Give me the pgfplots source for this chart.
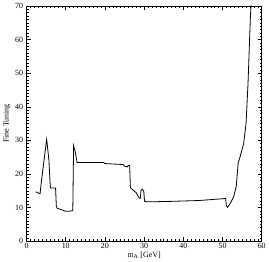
\documentclass[border=0pt]{standalone}
\usepackage{fontspec}
\setmainfont{Liberation Serif}
\usepackage{pgfplots}
\pgfplotsset{compat=1.18}
\begin{document}
\begin{tikzpicture}[x=1pt,y=1pt]
\begin{axis}[
  width=237pt, height=237pt, scale only axis,
  xmin=0, xmax=60, ymin=0, ymax=70,
  xtick={0,10,...,60}, ytick={0,10,...,70},
  minor tick num=9,
  tick align=inside,
  major tick length=4pt, minor tick length=2pt,
  tick style={black, line width=0.5pt},
  axis line style={line width=0.8pt},
  ticklabel style={font=\fontsize{8}{9}\selectfont},
  /pgf/number format/assume math mode=true,
  xlabel={m$_{\mathrm{A}}$ [GeV]},
  ylabel={Fine Tuning},
  label style={font=\fontsize{8}{9}\selectfont},
  xlabel style={yshift=4pt},
  ylabel style={yshift=-2pt},
  xticklabel style={yshift=1pt},
  clip=true,
]
\addplot[black, line width=0.8pt] coordinates {
(2.36,14.7) (3.45,14.1) (3.8,17.9) (5.13,30.3) (5.7,24.2) (6.0,17.4) (6.1,15.8)
(7.4,15.8) (7.6,10.5) (7.8,9.8) (9.1,9.3) (9.9,8.9) (10.8,8.9) (11.8,9.1)
(12.0,28.4) (12.4,26.7) (12.9,23.4) (13.7,23.4) (19.6,23.4) (20.0,23.1)
(24.7,22.8) (25.0,22.3) (25.8,22.1) (25.9,22.5) (26.3,22.5) (26.5,15.9)
(27.2,15.2) (28.0,14.4) (28.7,12.9) (29.0,12.7) (29.2,15.1) (29.5,15.5)
(29.9,14.9) (30.1,11.9) (30.6,11.7) (35.6,11.8) (44.0,12.1) (50.8,12.7)
(51.0,10.5) (51.3,10.1) (52.0,11.3) (52.9,13.4) (53.5,16.4) (54.0,23.3)
(54.5,25.2) (55.4,29.1) (56.0,35.0) (56.5,46.8) (56.8,56.6) (57.1,66.4)
(57.35,72)
};
\end{axis}
\end{tikzpicture}
\end{document}
